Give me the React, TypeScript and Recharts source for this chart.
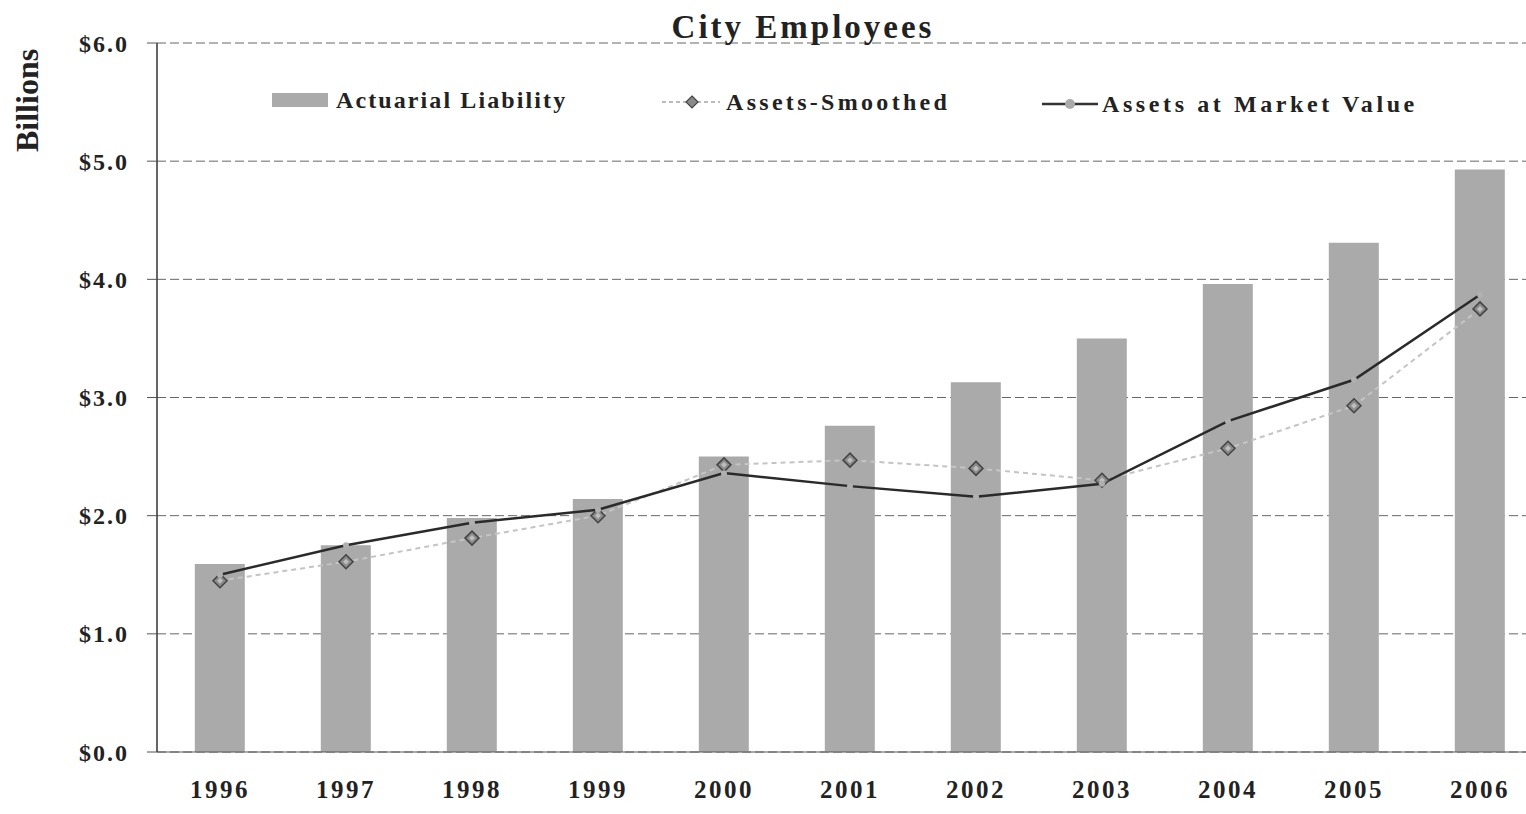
import React from 'react';
import { ComposedChart, Bar, Line, XAxis, YAxis, CartesianGrid } from 'recharts';

const years = ['1996', '1997', '1998', '1999', '2000', '2001', '2002', '2003', '2004', '2005', '2006'];
const actuarialLiability = [1.59, 1.75, 1.98, 2.14, 2.5, 2.76, 3.13, 3.5, 3.96, 4.31, 4.93];
const assetsSmoothed = [1.45, 1.61, 1.81, 2.0, 2.43, 2.47, 2.4, 2.3, 2.57, 2.93, 3.75];
const assetsMarket = [1.5, 1.75, 1.94, 2.05, 2.36, 2.25, 2.16, 2.27, 2.8, 3.15, 3.87];
const yTicks = [0, 1, 2, 3, 4, 5, 6];

const data = years.map((y, i) => ({
  year: y,
  liability: actuarialLiability[i],
  smoothed: assetsSmoothed[i],
  market: assetsMarket[i],
}));

const FONT = '"Liberation Serif", "DejaVu Serif", serif';

const Diamond = (props: any) => {
  const { cx, cy } = props;
  if (cx == null || cy == null) return null;
  const s = 7;
  return (
    <g>
      <polygon
        points={`${cx},${cy - s} ${cx + s},${cy} ${cx},${cy + s} ${cx - s},${cy}`}
        fill="#8a8a8a"
        stroke="#444"
        strokeWidth={1.5}
      />
      <polygon
        points={`${cx},${cy - 3} ${cx + 3},${cy} ${cx},${cy + 3} ${cx - 3},${cy}`}
        fill="#bdbdbd"
      />
    </g>
  );
};

const SmallDot = (props: any) => {
  const { cx, cy } = props;
  if (cx == null || cy == null) return null;
  return <circle cx={cx} cy={cy} r={3} fill="#b0b0b0" stroke="none" />;
};

const legendText: React.CSSProperties = {
  fontFamily: FONT,
  fontWeight: 'bold',
  fontSize: 24,
  color: '#222',
  whiteSpace: 'nowrap',
};

export default function App() {
  return (
    <div style={{ position: 'fixed', left: 0, top: 0, width: 1526, height: 814, overflow: 'hidden', background: '#fff' }}>
      <ComposedChart
        width={1545}
        height={814}
        data={data}
        margin={{ top: 43, right: 2, left: 0, bottom: 0 }}
        barCategoryGap="30%"
      >
        <CartesianGrid vertical={false} stroke="#666" strokeDasharray="9 4" />
        <XAxis
          dataKey="year"
          height={62}
          tickLine={false}
          axisLine={{ stroke: '#555' }}
          tick={{ fontFamily: FONT, fontWeight: 'bold', fontSize: 25, fill: '#222', letterSpacing: 2.5 } as any}
          tickMargin={22}
        />
        <YAxis
          width={157}
          domain={[0, 6]}
          ticks={yTicks}
          interval={0}
          tickSize={10}
          tickMargin={18}
          tickLine={{ stroke: '#555' }}
          axisLine={{ stroke: '#333', strokeWidth: 1.5 }}
          tickFormatter={(v: number) => `$${v.toFixed(1)}`}
          tick={{ fontFamily: FONT, fontWeight: 'bold', fontSize: 24, fill: '#222', letterSpacing: 2 } as any}
        />
        <Bar dataKey="liability" name="Actuarial Liability" fill="#aaaaaa" isAnimationActive={false} />
        <Line
          dataKey="smoothed"
          name="Assets-Smoothed"
          stroke="#c4c4c4"
          strokeWidth={2}
          strokeDasharray="5 4"
          dot={<Diamond />}
          activeDot={false}
          isAnimationActive={false}
        />
        <Line
          dataKey="market"
          name="Assets at Market Value"
          stroke="#2a2a2a"
          strokeWidth={2.5}
          dot={<SmallDot />}
          activeDot={false}
          isAnimationActive={false}
        />
      </ComposedChart>

      <div
        style={{
          position: 'absolute',
          left: 0,
          width: 1606,
          top: 9,
          textAlign: 'center',
          fontFamily: FONT,
          fontWeight: 'bold',
          fontSize: 33,
          letterSpacing: 3,
          color: '#222',
        }}
      >
        City Employees
      </div>
      <div
        style={{
          position: 'absolute',
          left: 9,
          top: 152,
          transform: 'rotate(-90deg)',
          transformOrigin: 'left top',
          fontFamily: FONT,
          fontWeight: 'bold',
          fontSize: 32,
          color: '#222',
          whiteSpace: 'nowrap',
          lineHeight: '36px',
        }}
      >
        Billions
      </div>

      <div style={{ position: 'absolute', left: 272, top: 86, display: 'flex', alignItems: 'center', height: 28 }}>
        <div style={{ width: 56, height: 14, background: '#aaaaaa', marginRight: 8 }} />
        <span style={{ ...legendText, letterSpacing: 2.1 }}>Actuarial Liability</span>
      </div>
      <div style={{ position: 'absolute', left: 660, top: 88, display: 'flex', alignItems: 'center', height: 28 }}>
        <svg width={62} height={20} style={{ marginRight: 4 }}>
          <line x1={2} y1={10} x2={60} y2={10} stroke="#bbbbbb" strokeWidth={2} strokeDasharray="4 3" />
          <polygon points="32,4 38,10 32,16 26,10" fill="#8a8a8a" stroke="#444" strokeWidth={1.2} />
        </svg>
        <span style={{ ...legendText, letterSpacing: 3.3 }}>Assets-Smoothed</span>
      </div>
      <div style={{ position: 'absolute', left: 1040, top: 90, display: 'flex', alignItems: 'center', height: 28 }}>
        <svg width={60} height={20} style={{ marginRight: 2 }}>
          <line x1={2} y1={10} x2={58} y2={10} stroke="#333" strokeWidth={2.5} />
          <circle cx={30} cy={10} r={5} fill="#aaaaaa" />
        </svg>
        <span style={{ ...legendText, letterSpacing: 3.6 }}>Assets at Market Value</span>
      </div>
    </div>
  );
}
